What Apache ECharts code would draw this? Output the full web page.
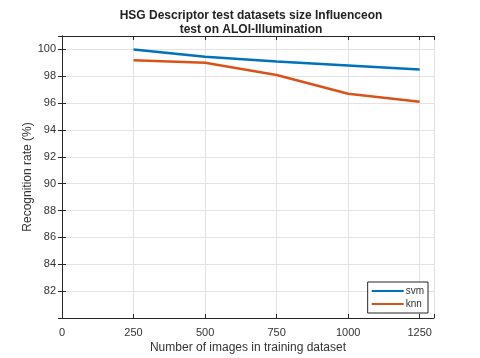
<!DOCTYPE html>
<html>
<head>
<meta charset="utf-8">
<script src="https://cdn.jsdelivr.net/npm/echarts@6/dist/echarts.min.js"></script>
<style>
  html, body { margin: 0; padding: 0; background: #fff; }
  #chart { width: 480px; height: 358px; }
</style>
</head>
<body>
<div id="chart"></div>
<script>
// training set sizes
var sizes = [250, 500, 750, 1000, 1250];
// recognition rate (%)
var svmRate = [100.0, 99.45, 99.1, 98.8, 98.5];
var knnRate = [99.2, 99.0, 98.1, 96.7, 96.1];
var seriesNames = ['svm', 'knn'];

var myChart = echarts.init(document.getElementById('chart'));

function pairs(xs, ys) {
  return xs.map(function (x, i) { return [x, ys[i]]; });
}

var txt = '#333';
var font = 'Liberation Sans';

myChart.setOption({
  animation: false,
  title: {
    text: 'HSG Descriptor test datasets size Influenceon\ntest on ALOI-Illumination',
    left: 246,
    textAlign: 'center',
    top: 4,
    textStyle: {
      fontFamily: font,
      fontSize: 12,
      fontWeight: 'bold',
      color: '#222',
      lineHeight: 14
    }
  },
  legend: {
    right: 52,
    bottom: 45,
    orient: 'vertical',
    itemWidth: 32,
    itemHeight: 2,
    itemGap: 3,
    padding: [4, 4, 4, 4],
    borderColor: '#262626',
    borderWidth: 1,
    backgroundColor: '#fff',
    icon: 'rect',
    textStyle: { fontFamily: font, fontSize: 10, color: txt, padding: [0, 0, 0, -3] },
    data: seriesNames
  },
  grid: {
    left: 62,
    right: 46,
    top: 36,
    bottom: 40,
    containLabel: false,
    outerBoundsMode: 'none'
  },
  xAxis: [
    {
      type: 'value',
      min: 0,
      max: 1300,
      interval: 250,
      name: 'Number of images in training dataset',
      nameLocation: 'middle',
      nameGap: 24,
      nameMoveOverlap: false,
      nameTextStyle: { fontFamily: font, fontSize: 12, color: txt },
      axisLine: { show: true, onZero: false, lineStyle: { color: '#262626', width: 1 } },
      axisTick: { show: true, inside: true, length: 4, lineStyle: { color: '#262626' } },
      axisLabel: {
        fontFamily: font, fontSize: 11, color: txt, margin: 9,
        formatter: function (v) { return v % 250 === 0 ? v : ''; }
      },
      splitLine: { show: true, lineStyle: { color: '#e3e3e3', width: 1 } }
    },
    {
      type: 'value',
      position: 'top',
      min: 0,
      max: 1300,
      interval: 250,
      axisLine: { show: true, lineStyle: { color: '#262626', width: 1 } },
      axisTick: { show: true, inside: true, length: 4, lineStyle: { color: '#262626' } },
      axisLabel: { show: false },
      splitLine: { show: false }
    }
  ],
  yAxis: [
    {
      type: 'value',
      min: 80,
      max: 101,
      interval: 2,
      name: 'Recognition rate (%)',
      nameLocation: 'middle',
      nameGap: 28,
      nameMoveOverlap: false,
      nameTextStyle: { fontFamily: font, fontSize: 12, color: txt },
      axisLine: { show: true, lineStyle: { color: '#262626', width: 1 } },
      axisTick: { show: true, inside: true, length: 4, lineStyle: { color: '#262626' } },
      axisLabel: {
        fontFamily: font, fontSize: 11, color: txt, margin: 6,
        formatter: function (v) { return (v >= 82 && v <= 100 && v % 2 === 0) ? v : ''; }
      },
      splitLine: { show: true, lineStyle: { color: '#e3e3e3', width: 1 } }
    },
    {
      type: 'value',
      position: 'right',
      min: 80,
      max: 101,
      interval: 2,
      axisLine: { show: true, lineStyle: { color: '#262626', width: 1 } },
      axisTick: { show: true, inside: true, length: 4, lineStyle: { color: '#262626' } },
      axisLabel: { show: false },
      splitLine: { show: false }
    }
  ],
  series: [
    {
      name: seriesNames[0],
      type: 'line',
      data: pairs(sizes, svmRate),
      symbol: 'none',
      lineStyle: { color: '#0072BD', width: 2.5 },
      itemStyle: { color: '#0072BD' }
    },
    {
      name: seriesNames[1],
      type: 'line',
      data: pairs(sizes, knnRate),
      symbol: 'none',
      lineStyle: { color: '#D95319', width: 2.5 },
      itemStyle: { color: '#D95319' }
    }
  ]
});
</script>
</body>
</html>
